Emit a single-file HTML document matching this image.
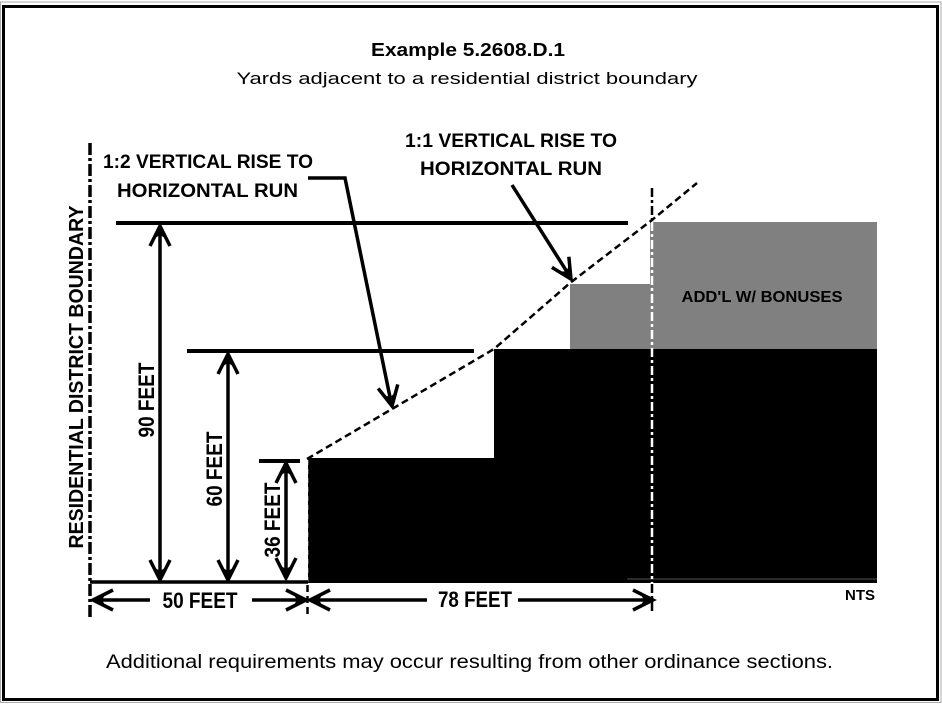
<!DOCTYPE html>
<html>
<head>
<meta charset="utf-8">
<style>
html,body{margin:0;padding:0;background:#fff;}
svg{display:block;}
text{font-family:"Liberation Sans",Arial,sans-serif;fill:#000;}
.b{font-weight:bold;}
</style>
</head>
<body>
<svg width="942" height="704" viewBox="0 0 942 704" xmlns="http://www.w3.org/2000/svg">
<defs>
  <g id="ah">
    <path d="M-10,20 L0,0 L10,20" fill="none" stroke="#000" stroke-width="3.5" stroke-linejoin="miter"/>
    <polygon points="0,0 -5,12 0,9 5,12" fill="#000"/>
  </g>
</defs>

<!-- frame -->
<rect x="0.5" y="2" width="940.5" height="700.5" fill="none" stroke="#aaa" stroke-width="1"/>
<rect x="3.5" y="6.5" width="934" height="693" fill="none" stroke="#000" stroke-width="3"/>

<!-- titles -->
<text x="468" y="56" class="b" font-size="18" text-anchor="middle" textLength="194" lengthAdjust="spacingAndGlyphs">Example 5.2608.D.1</text>
<text x="467" y="84" font-size="17" text-anchor="middle" textLength="461" lengthAdjust="spacingAndGlyphs">Yards adjacent to a residential district boundary</text>

<!-- filled shapes -->
<polygon points="308,458 494,458 494,349 877,349 877,583 308,583" fill="#000"/>
<rect x="570" y="284" width="82" height="65" fill="#808080"/>
<rect x="650" y="222" width="227" height="127" fill="#808080"/>
<line x1="627" y1="579" x2="877" y2="579" stroke="#555" stroke-width="1"/>

<text x="762" y="302" class="b" font-size="16" text-anchor="middle" textLength="161" lengthAdjust="spacingAndGlyphs" fill="#111">ADD'L W/ BONUSES</text>

<!-- dash-dot line at 652 -->
<line x1="652" y1="188" x2="652" y2="222" stroke="#000" stroke-width="2.5" stroke-dasharray="9 3 3 3"/>
<line x1="652" y1="222" x2="652" y2="583" stroke="#fff" stroke-width="2.5" stroke-dasharray="9 3 3 3"/>
<line x1="652" y1="584" x2="652" y2="614" stroke="#000" stroke-width="2.5" stroke-dasharray="9 3 3 3"/>

<!-- left boundary dash-dot -->
<line x1="90" y1="143" x2="90" y2="618" stroke="#000" stroke-width="3.5" stroke-dasharray="12 3 3 3"/>

<!-- dashed at block edge -->
<line x1="307.5" y1="460" x2="307.5" y2="583" stroke="#fff" stroke-width="1.5" stroke-dasharray="5 4"/>
<line x1="307.5" y1="585" x2="307.5" y2="615" stroke="#000" stroke-width="2.5" stroke-dasharray="7 4"/>

<!-- diagonal dashed envelope -->
<polyline points="307,459 494,349 570,283 652,220 697,183" fill="none" stroke="#000" stroke-width="2.5" stroke-dasharray="7 4"/>

<!-- horizontal height lines -->
<line x1="116" y1="223" x2="628" y2="223" stroke="#000" stroke-width="4"/>
<line x1="187" y1="351" x2="474" y2="351" stroke="#000" stroke-width="4"/>
<line x1="259" y1="461" x2="300" y2="461" stroke="#000" stroke-width="4"/>

<!-- ground line -->
<line x1="90" y1="582" x2="308" y2="582" stroke="#000" stroke-width="3.5"/>

<!-- vertical dimension arrows -->
<line x1="160" y1="228" x2="160" y2="578" stroke="#000" stroke-width="3.5"/>
<use href="#ah" transform="translate(160,226)"/>
<use href="#ah" transform="translate(160,580) rotate(180)"/>

<line x1="228" y1="356" x2="228" y2="578" stroke="#000" stroke-width="3.5"/>
<use href="#ah" transform="translate(228,354)"/>
<use href="#ah" transform="translate(228,580) rotate(180)"/>

<line x1="286" y1="465" x2="286" y2="576" stroke="#000" stroke-width="3.5"/>
<use href="#ah" transform="translate(286,463)"/>
<use href="#ah" transform="translate(286,578) rotate(180)"/>

<!-- vertical labels -->
<text transform="translate(83,377) rotate(-90)" class="b" font-size="20" text-anchor="middle" textLength="343" lengthAdjust="spacingAndGlyphs">RESIDENTIAL DISTRICT BOUNDARY</text>
<text transform="translate(154,400) rotate(-90)" class="b" font-size="22" text-anchor="middle" textLength="75" lengthAdjust="spacingAndGlyphs">90 FEET</text>
<text transform="translate(222,469) rotate(-90)" class="b" font-size="22" text-anchor="middle" textLength="75" lengthAdjust="spacingAndGlyphs">60 FEET</text>
<text transform="translate(280,520) rotate(-90)" class="b" font-size="22" text-anchor="middle" textLength="75" lengthAdjust="spacingAndGlyphs">36 FEET</text>

<!-- horizontal dimension arrows -->
<line x1="95" y1="600" x2="150" y2="600" stroke="#000" stroke-width="3.5"/>
<use href="#ah" transform="translate(93,600) rotate(-90)"/>
<line x1="252" y1="600" x2="304" y2="600" stroke="#000" stroke-width="3.5"/>
<use href="#ah" transform="translate(306,600) rotate(90)"/>
<text x="200" y="608" class="b" font-size="22" text-anchor="middle" textLength="75" lengthAdjust="spacingAndGlyphs">50 FEET</text>

<line x1="312" y1="600" x2="427" y2="600" stroke="#000" stroke-width="3.5"/>
<use href="#ah" transform="translate(310,600) rotate(-90)"/>
<line x1="518" y1="600" x2="651" y2="600" stroke="#000" stroke-width="3.5"/>
<use href="#ah" transform="translate(653,600) rotate(90)"/>
<text x="475" y="607" class="b" font-size="22" text-anchor="middle" textLength="74" lengthAdjust="spacingAndGlyphs">78 FEET</text>

<text x="860" y="600" class="b" font-size="15" text-anchor="middle" textLength="30" lengthAdjust="spacingAndGlyphs">NTS</text>

<!-- annotations -->
<text x="208" y="168" class="b" font-size="19" text-anchor="middle" textLength="210" lengthAdjust="spacingAndGlyphs">1:2 VERTICAL RISE TO</text>
<text x="207.5" y="197" class="b" font-size="19" text-anchor="middle" textLength="181" lengthAdjust="spacingAndGlyphs">HORIZONTAL RUN</text>
<text x="511" y="147" class="b" font-size="19" text-anchor="middle" textLength="212" lengthAdjust="spacingAndGlyphs">1:1 VERTICAL RISE TO</text>
<text x="511" y="175" class="b" font-size="19" text-anchor="middle" textLength="182" lengthAdjust="spacingAndGlyphs">HORIZONTAL RUN</text>

<!-- leader 1:2 -->
<polyline points="308,178 345,178 391,402" fill="none" stroke="#000" stroke-width="3.5" stroke-linejoin="miter"/>
<use href="#ah" transform="translate(392,406) rotate(168.4)"/>

<!-- leader 1:1 -->
<line x1="512" y1="185" x2="569" y2="275" stroke="#000" stroke-width="3.5"/>
<use href="#ah" transform="translate(571,279) rotate(147.9)"/>

<!-- footer -->
<text x="469.5" y="668" font-size="19" text-anchor="middle" textLength="727" lengthAdjust="spacingAndGlyphs">Additional requirements may occur resulting from other ordinance sections.</text>
</svg>
</body>
</html>
